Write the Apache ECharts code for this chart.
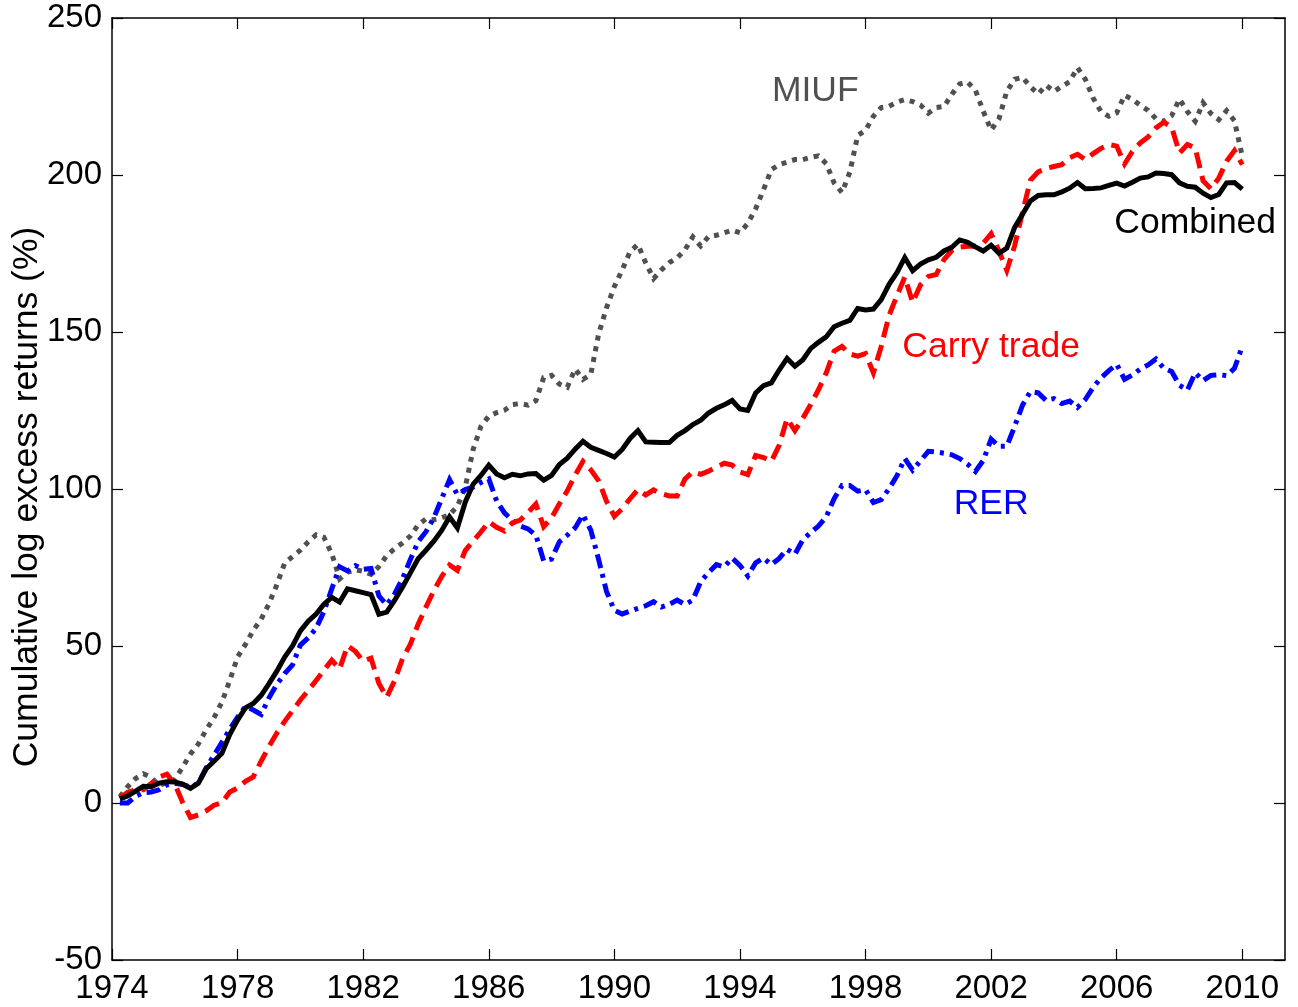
<!DOCTYPE html>
<html>
<head>
<meta charset="utf-8">
<title>Cumulative log excess returns</title>
<script src="https://cdn.jsdelivr.net/npm/echarts@6/dist/echarts.min.js"></script>
<style>
  html, body { margin: 0; padding: 0; background: #ffffff; }
  #chart { width: 1298px; height: 1007px; }
</style>
</head>
<body>
<div id="chart"></div>
<script>
// Quarterly observations, first quarter 1974Q2 (1974.25), last 2010Q1 (2010.0)
const firstQuarter = 1974.25;

// Cumulative log excess returns (%) for each strategy
const combined = [
  1.3, 2.2, 3.8, 5.3, 5.2, 6.3, 6.8, 6.7, 6.0, 4.7,
  6.3, 10.9, 13.3, 15.8, 21.8, 26.4, 30.3, 31.7, 34.3, 38.0,
  42.0, 46.5, 50.0, 54.8, 57.9, 60.2, 63.3, 65.5, 64.0, 68.2,
  67.6, 67.0, 66.4, 60.1, 60.8, 64.5, 68.7, 73.2, 77.8, 80.5,
  83.4, 86.8, 91.1, 87.6, 95.8, 101.5, 104.3, 107.6, 104.8, 103.6,
  104.7, 104.2, 104.8, 104.9, 102.8, 104.3, 107.8, 109.8, 112.7, 115.2,
  113.3, 112.3, 111.3, 110.2, 112.6, 116.1, 118.6, 115.0, 114.9, 114.8,
  114.8, 117.1, 118.6, 120.5, 121.9, 124.2, 125.7, 126.8, 128.2, 125.5,
  125.0, 130.6, 132.9, 133.8, 137.9, 141.6, 139.1, 141.1, 144.7, 146.7,
  148.5, 151.7, 152.8, 153.7, 157.5, 157.0, 157.3, 160.3, 165.2, 168.9,
  173.7, 169.5, 171.6, 173.0, 173.8, 175.8, 177.0, 179.3, 178.6, 177.1,
  175.8, 177.6, 175.1, 176.7, 183.3, 187.5, 191.7, 193.5, 193.7, 193.7,
  194.6, 195.8, 197.6, 195.6, 195.7, 195.9, 196.7, 197.4, 196.5, 197.7,
  199.0, 199.4, 200.6, 200.5, 200.1, 197.5, 196.4, 196.1, 194.2, 192.8,
  193.8, 197.5, 197.6, 195.5
];

const carryTrade = [
  1.6, 3.4, 4.2, 4.2, 6.2, 8.3, 9.2, 6.0, 0.2, -4.6,
  -3.8, -2.5, -0.7, 0.1, 3.5, 4.8, 6.9, 8.3, 13.3, 18.0,
  22.3, 26.0, 29.4, 32.8, 35.8, 39.0, 42.3, 45.5, 42.7, 50.1,
  48.3, 45.2, 46.1, 38.1, 33.7, 38.9, 45.9, 50.5, 56.9, 62.4,
  67.6, 72.1, 75.8, 74.1, 80.4, 83.4, 86.3, 89.6, 87.8, 86.6,
  89.2, 90.1, 92.5, 95.2, 88.0, 90.8, 95.3, 99.4, 104.4, 108.8,
  106.1, 102.6, 96.1, 91.3, 93.7, 96.9, 99.8, 98.1, 99.7, 98.5,
  97.8, 97.8, 103.2, 105.5, 104.7, 105.7, 107.0, 108.2, 107.6, 105.4,
  104.6, 110.7, 110.0, 108.8, 113.9, 122.4, 118.6, 122.5, 126.8, 131.6,
  137.0, 143.9, 145.4, 143.0, 142.3, 143.1, 137.0, 145.4, 155.3, 161.5,
  167.5, 159.4, 165.0, 167.7, 168.3, 173.1, 175.9, 177.0, 177.3, 177.3,
  178.3, 181.3, 175.8, 169.6, 177.5, 188.1, 198.3, 201.0, 202.1, 202.7,
  203.3, 205.5, 206.6, 204.9, 206.8, 208.5, 209.7, 209.2, 203.5, 207.5,
  210.2, 212.1, 215.0, 216.8, 215.2, 207.0, 209.7, 208.6, 198.2, 195.6,
  199.0, 204.4, 207.8, 203.3
];

const rer = [
  0.0, 0.0, 2.1, 3.3, 3.5, 4.2, 5.8, 6.3, 5.9, 5.1,
  6.3, 11.2, 15.2, 19.3, 23.5, 27.3, 30.8, 29.6, 28.2, 33.5,
  37.8, 41.2, 44.0, 50.3, 52.6, 55.6, 61.0, 68.2, 75.2, 73.9,
  75.6, 74.4, 74.7, 66.0, 63.1, 66.6, 71.4, 77.5, 83.2, 86.4,
  90.8, 96.9, 103.0, 98.2, 99.8, 100.6, 102.1, 103.2, 96.2, 92.4,
  90.0, 88.2, 87.3, 85.3, 77.1, 77.7, 83.2, 85.3, 87.6, 91.8,
  86.9, 77.5, 67.4, 61.4, 60.2, 61.1, 62.0, 62.8, 64.1, 62.4,
  63.3, 64.6, 63.2, 64.6, 70.5, 73.4, 75.9, 75.2, 78.0, 75.7,
  72.3, 76.5, 78.0, 75.9, 77.9, 80.8, 79.2, 83.8, 86.1, 88.2,
  91.2, 96.9, 101.1, 101.1, 99.3, 99.8, 95.7, 96.6, 100.1, 104.2,
  109.7, 106.0, 109.0, 112.0, 111.8, 111.4, 110.9, 109.7, 107.9, 105.6,
  109.1, 115.9, 113.6, 113.6, 120.0, 126.7, 131.0, 130.6, 128.2, 128.8,
  127.2, 128.0, 126.0, 128.5, 132.4, 135.4, 137.7, 139.7, 134.9, 136.3,
  138.2, 139.5, 141.4, 138.5, 137.4, 133.0, 131.5, 137.0, 134.5, 136.2,
  136.4, 136.1, 138.4, 145.5
];

const miuf = [
  2.0, 5.2, 7.8, 9.3, 8.1, 5.6, 6.5, 7.5, 11.4, 15.6,
  18.8, 23.3, 27.2, 32.1, 39.0, 46.5, 50.5, 55.0, 58.5, 63.5,
  69.5, 76.4, 78.5, 80.5, 83.2, 85.4, 84.6, 79.4, 71.4, 73.5,
  74.3, 73.8, 72.8, 75.3, 78.8, 81.0, 82.8, 85.0, 88.5, 90.5,
  90.2, 90.8, 91.8, 94.5, 100.5, 112.5, 119.9, 123.2, 124.3, 125.1,
  126.9, 127.2, 126.7, 128.1, 135.5, 136.2, 133.4, 132.4, 138.2, 134.9,
  136.5, 149.4, 157.7, 164.5, 169.8, 175.6, 177.9, 172.0, 167.0, 169.8,
  172.1, 173.6, 176.2, 180.3, 177.4, 180.4, 180.8, 181.6, 182.4, 181.6,
  184.6, 189.2, 195.3, 201.7, 203.3, 204.1, 204.9, 204.9, 205.6, 206.1,
  203.6, 197.5, 194.4, 200.9, 212.6, 214.2, 218.7, 221.5, 221.9, 223.2,
  224.0, 223.4, 222.3, 219.7, 221.5, 221.8, 225.7, 229.0, 229.6, 227.0,
  220.3, 214.3, 217.9, 226.7, 230.5, 231.1, 228.1, 225.8, 228.6, 226.6,
  228.2, 229.7, 234.2, 230.5, 224.5, 220.2, 218.7, 219.8, 225.4, 224.1,
  222.2, 220.6, 217.9, 217.1, 218.9, 224.2, 220.2, 217.1, 223.0, 219.6,
  217.6, 220.5, 217.3, 205.9
];

// Axis ticks
const yearTicks = [1974, 1978, 1982, 1986, 1990, 1994, 1998, 2002, 2006, 2010];
const yearMin = 1974;
const yearMax = 2011.36;
const valueMin = -50;
const valueMax = 250;
const valueStep = 50;

// Series names, drawn as text next to each line at [year, value]
const lineLabels = {
  MIUF: [1996.4, 226.8],
  Combined: [2008.5, 184.6],
  'Carry trade': [2002.0, 145.3],
  RER: [2002.0, 95.3]
};

const FONT = '"Liberation Sans", Arial, Helvetica, sans-serif';

function toPairs(values) {
  return values.map((v, i) => [firstQuarter + i * 0.25, v]);
}

function nameLabel(name, color) {
  const [year, value] = lineLabels[name];
  return {
    silent: true,
    symbol: 'circle',
    symbolSize: 1,
    itemStyle: { color: 'rgba(0,0,0,0)' },
    label: {
      show: true,
      position: 'inside',
      formatter: name,
      color: color,
      fontSize: 35.5,
      fontFamily: FONT
    },
    data: [{ coord: [year, value] }]
  };
}

function lineSeries(name, values, color, dash, width) {
  return {
    name: name,
    type: 'line',
    data: toPairs(values),
    showSymbol: false,
    symbol: 'none',
    animation: false,
    lineStyle: { color: color, width: width, type: dash, cap: 'butt', join: 'miter' },
    markPoint: nameLabel(name, color)
  };
}

const axisLineStyle = { color: '#000000', width: 1.5 };
const tickStyle = { color: '#000000', width: 1.2 };

const option = {
  animation: false,
  backgroundColor: '#ffffff',
  grid: {
    left: 112, right: 13, top: 18, bottom: 47,
    containLabel: false,
    outerBoundsMode: 'none'
  },
  xAxis: [
    {
      type: 'value',
      min: yearMin,
      max: yearMax,
      position: 'bottom',
      splitLine: { show: false },
      axisLine: { show: true, onZero: false, lineStyle: axisLineStyle },
      axisTick: { show: true, inside: true, length: 11, customValues: yearTicks, lineStyle: tickStyle },
      axisLabel: {
        customValues: yearTicks,
        formatter: v => String(v),
        color: '#000000',
        fontSize: 33,
        fontFamily: FONT,
        margin: 12
      }
    },
    {
      type: 'value',
      min: yearMin,
      max: yearMax,
      position: 'top',
      splitLine: { show: false },
      axisLine: { show: true, onZero: false, lineStyle: axisLineStyle },
      axisTick: { show: true, inside: true, length: 11, customValues: yearTicks, lineStyle: tickStyle },
      axisLabel: { show: false }
    }
  ],
  yAxis: [
    {
      type: 'value',
      min: valueMin,
      max: valueMax,
      interval: valueStep,
      position: 'left',
      name: 'Cumulative log excess returns (%)',
      nameLocation: 'middle',
      nameGap: 67,
      nameRotate: 90,
      nameMoveOverlap: false,
      nameTextStyle: {
        color: '#000000',
        fontSize: 35.5,
        fontFamily: FONT,
        padding: [0, 16, 0, 0]
      },
      splitLine: { show: false },
      axisLine: { show: true, onZero: false, lineStyle: axisLineStyle },
      axisTick: { show: true, inside: true, length: 11, lineStyle: tickStyle },
      axisLabel: { color: '#000000', fontSize: 33, fontFamily: FONT, margin: 10 }
    },
    {
      type: 'value',
      min: valueMin,
      max: valueMax,
      interval: valueStep,
      position: 'right',
      splitLine: { show: false },
      axisLine: { show: true, onZero: false, lineStyle: axisLineStyle },
      axisTick: { show: true, inside: true, length: 11, lineStyle: tickStyle },
      axisLabel: { show: false }
    }
  ],
  series: [
    lineSeries('MIUF', miuf, '#505050', [5, 6], 5),
    lineSeries('RER', rer, '#0000ff', [14, 6, 4, 6], 5),
    lineSeries('Carry trade', carryTrade, '#ff0000', [16, 8], 5),
    lineSeries('Combined', combined, '#000000', 'solid', 5)
  ]
};

const chart = echarts.init(document.getElementById('chart'), null, { renderer: 'canvas' });
chart.setOption(option);
</script>
</body>
</html>
